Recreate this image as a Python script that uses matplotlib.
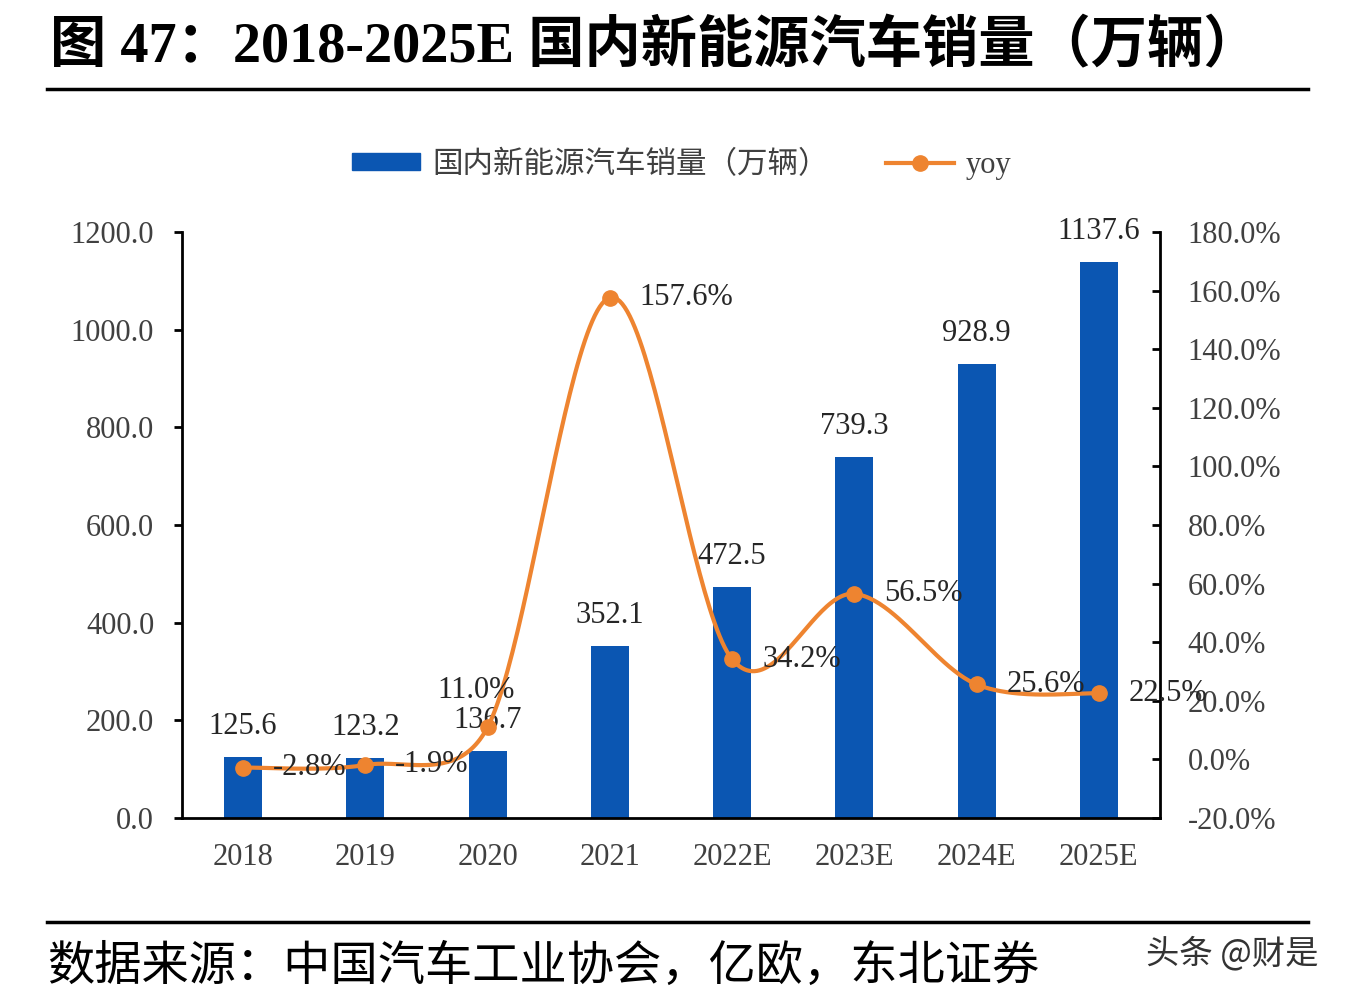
import numpy as np
import matplotlib
matplotlib.use("Agg")
import matplotlib.pyplot as plt
from matplotlib.patches import Patch
from matplotlib.lines import Line2D

years = ["2018", "2019", "2020", "2021", "2022E", "2023E", "2024E", "2025E"]
sales = [125.6, 123.2, 136.7, 352.1, 472.5, 739.3, 928.9, 1137.6]
yoy = [-2.8, -1.9, 11.0, 157.6, 34.2, 56.5, 25.6, 22.5]

BLUE = "#0b56b2"
ORANGE = "#ee8430"
GRAY = "#404040"
FS = 22

plt.rcParams["font.family"] = ["Liberation Serif", "Noto Sans CJK SC"]


def smooth(xs, ys, kx, ky, n=50):
    # excel-style smoothed line (bezier, tension 1/6, arm capped at half the segment),
    # worked out in pixel space then mapped back to data units
    pts = np.column_stack([np.asarray(xs) * kx, np.asarray(ys) * ky]).astype(float)
    out = []
    for i in range(len(pts) - 1):
        p0 = pts[i - 1] if i > 0 else pts[i]
        p1, p2 = pts[i], pts[i + 1]
        p3 = pts[i + 2] if i + 2 < len(pts) else pts[i + 1]
        d12 = np.linalg.norm(p2 - p1)
        d02 = np.linalg.norm(p2 - p0)
        d13 = np.linalg.norm(p3 - p1)
        f1 = min(1 / 6, d12 / (2 * d02)) if d02 > 0 else 0
        f2 = min(1 / 6, d12 / (2 * d13)) if d13 > 0 else 0
        c1 = p1 + (p2 - p0) * f1
        c2 = p2 - (p3 - p1) * f2
        t = np.linspace(0, 1, n)[:, None]
        seg = ((1 - t) ** 3) * p1 + 3 * ((1 - t) ** 2) * t * c1 + 3 * (1 - t) * t ** 2 * c2 + t ** 3 * p2
        out.append(seg if i == 0 else seg[1:])
    out = np.vstack(out)
    return out[:, 0] / kx, out[:, 1] / ky


fig = plt.figure(figsize=(13.48, 10), dpi=100)
ax_rect = [0.135, 0.182, 0.7255, 0.586]
ax = fig.add_axes(ax_rect)
ax2 = ax.twinx()

x = np.arange(len(years))
ax.bar(x, sales, width=0.31, color=BLUE, zorder=2)
for xi, v in zip(x, sales):
    ax.annotate(f"{v:.1f}", (xi, v), textcoords="offset pixels", xytext=(0, 16),
                ha="center", va="bottom", fontsize=FS, color="#262626")

ax.set_xlim(-0.5, len(years) - 0.5)
ax.set_ylim(0, 1200)
ax.set_yticks(np.arange(0, 1201, 200))
ax.set_yticklabels([f"{v:.1f}" for v in np.arange(0, 1201, 200)])
ax.set_xticks(x)
ax.set_xticklabels(years)
ax.tick_params(axis="x", length=0, pad=18, labelsize=FS, labelcolor=GRAY)
ax.tick_params(axis="y", direction="out", length=6, width=2, pad=14, labelsize=FS, labelcolor=GRAY)
for s in ["top", "right"]:
    ax.spines[s].set_visible(False)
ax.spines["left"].set_linewidth(2)
ax.spines["bottom"].set_linewidth(2)

# pixels per unit on each scale
kx = ax_rect[2] * 1348 / len(years)
ky = ax_rect[3] * 1000 / 200
sx, sy = smooth(x, yoy, kx, ky)
ax2.plot(sx, sy, color=ORANGE, lw=3, zorder=3)
ax2.plot(x, yoy, "o", color=ORANGE, ms=11, zorder=4)
ax2.set_ylim(-20, 180)
ax2.set_yticks(np.arange(-20, 181, 20))
ax2.set_yticklabels([f"{v:.1f}%" for v in np.arange(-20, 181, 20)])
ax2.tick_params(axis="y", direction="in", length=6, width=2, pad=20, labelsize=FS, labelcolor=GRAY)
for s in ["top", "left", "bottom"]:
    ax2.spines[s].set_visible(False)
ax2.spines["right"].set_linewidth(2)

for i, (xi, v) in enumerate(zip(x, yoy)):
    if years[i] == "2020":
        ax2.annotate(f"{v:.1f}%", (xi, v), textcoords="offset pixels", xytext=(-12, 37),
                     ha="center", va="center", fontsize=FS, color="#262626", zorder=5)
    else:
        ax2.annotate(f"{v:.1f}%", (xi, v), textcoords="offset pixels", xytext=(30, 0),
                     ha="left", va="center", fontsize=FS, color="#262626", zorder=5)

handles = [Patch(color=BLUE), Line2D([], [], color=ORANGE, lw=3, marker="o", ms=11)]
fig.legend(handles, ["国内新能源汽车销量（万辆）", "yoy"], loc="center", bbox_to_anchor=(0.506, 0.835),
           ncol=2, frameon=False, fontsize=22, labelcolor=GRAY, handlelength=2.2,
           handleheight=0.5, columnspacing=1.9, handletextpad=0.4)

# title, rules, source
fig.text(0.037, 0.953, "图 47：2018-2025E 国内新能源汽车销量（万辆）", fontsize=40.5,
         fontweight="bold", va="center", ha="left")
fig.add_artist(Line2D([0.035, 0.97], [0.911, 0.911], color="black", lw=2.5))
fig.add_artist(Line2D([0.035, 0.97], [0.078, 0.078], color="black", lw=2.5))
fig.text(0.035, 0.033, "数据来源：中国汽车工业协会，亿欧，东北证券", fontsize=34,
         va="center", ha="left", family=["Noto Sans CJK SC"])
fig.text(0.978, 0.046, "头条 @财是", fontsize=24, va="center", ha="right",
         color="#333333", family=["Noto Sans CJK SC", "DejaVu Sans"])

fig.savefig("out.png", dpi=100)
